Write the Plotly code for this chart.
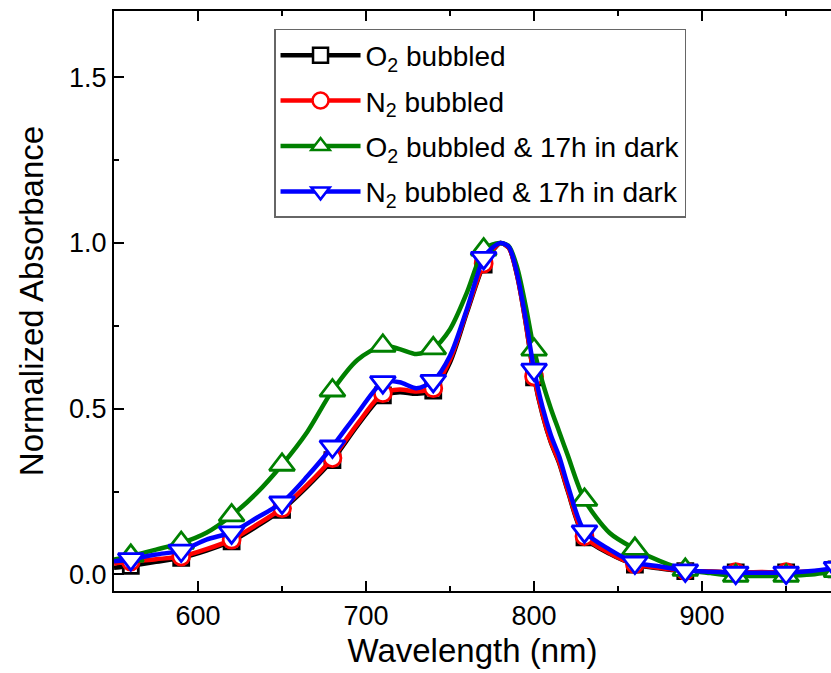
import plotly.graph_objects as go

# Wavelength grid (nm) for the smooth curves
wl = [550, 560, 575, 590, 605, 620, 635, 650, 665, 680, 695, 710, 720, 730, 740,
      750, 760, 770, 775, 780, 785, 790, 795, 800, 805, 810, 815, 820, 830, 845, 860,
      875, 890, 905, 920, 935, 950, 965, 980]

o2_bubbled = [0.020, 0.026, 0.038, 0.050, 0.072, 0.100, 0.145, 0.195, 0.265, 0.345, 0.450, 0.540,
              0.550, 0.545, 0.555, 0.640, 0.790, 0.935, 0.975, 1.000, 0.985, 0.900, 0.760, 0.595,
              0.482, 0.398, 0.335, 0.252, 0.112, 0.062, 0.030, 0.018, 0.010, 0.008, 0.006, 0.006,
              0.006, 0.008, 0.015]
n2_bubbled = [0.033, 0.039, 0.046, 0.054, 0.076, 0.105, 0.150, 0.200, 0.270, 0.351, 0.455, 0.547,
              0.558, 0.552, 0.562, 0.648, 0.795, 0.938, 0.977, 1.000, 0.985, 0.900, 0.760, 0.597,
              0.485, 0.400, 0.338, 0.255, 0.115, 0.064, 0.031, 0.019, 0.011, 0.009, 0.007, 0.007,
              0.007, 0.009, 0.016]
o2_dark = [0.045, 0.056, 0.075, 0.095, 0.126, 0.178, 0.246, 0.331, 0.430, 0.555, 0.648, 0.690,
           0.680, 0.665, 0.682, 0.740, 0.850, 0.980, 0.995, 1.000, 0.990, 0.925, 0.810, 0.678,
           0.580, 0.500, 0.430, 0.360, 0.225, 0.125, 0.077, 0.040, 0.014, 0.004, -0.004, -0.005,
           -0.004, 0.000, 0.010]
n2_dark = [0.040, 0.046, 0.060, 0.072, 0.105, 0.127, 0.171, 0.217, 0.296, 0.386, 0.487, 0.580,
           0.580, 0.562, 0.584, 0.660, 0.800, 0.955, 0.985, 1.000, 0.988, 0.905, 0.770, 0.618,
           0.505, 0.420, 0.355, 0.270, 0.130, 0.075, 0.036, 0.024, 0.012, 0.008, 0.005, 0.005,
           0.005, 0.010, 0.020]

# Marker wavelengths (every 30 nm)
marker_wl = [560, 590, 620, 650, 680, 710, 740, 770, 800, 830, 860, 890, 920, 950, 980]

names = ["O<sub>2</sub> bubbled", "N<sub>2</sub> bubbled",
         "O<sub>2</sub> bubbled &amp; 17h in dark", "N<sub>2</sub> bubbled &amp; 17h in dark"]
series = [o2_bubbled, n2_bubbled, o2_dark, n2_dark]
colors = ["#000000", "#ff0000", "#008000", "#0000ff"]
symbols = ["square", "circle", "triangle-up", "triangle-down"]
msizes = [15, 17, 22, 22]

fig = go.Figure()
for i, (name, ys, col, sym, ms) in enumerate(zip(names, series, colors, symbols, msizes)):
    fig.add_trace(go.Scatter(x=wl, y=ys, mode="lines",
                             line=dict(color=col, width=4.5, shape="spline", smoothing=0.8),
                             showlegend=False, hoverinfo="skip"))
    my = [ys[wl.index(w)] for w in marker_wl]
    fig.add_trace(go.Scatter(x=marker_wl, y=my, mode="markers",
                             marker=dict(symbol=sym, size=ms, color="white", line=dict(color=col, width=2.8)),
                             showlegend=False))
    fig.add_trace(go.Scatter(x=[None], y=[None], mode="lines+markers", name=name,
                             legendgroup=f"g{i}",
                             line=dict(color=col, width=4.5),
                             marker=dict(symbol=sym, size=ms, color="white", line=dict(color=col, width=2.5))))

font_family = "Liberation Sans, Arial, sans-serif"
fig.update_layout(
    width=831, height=673,
    margin=dict(l=114, r=0, t=11, b=82),
    paper_bgcolor="white", plot_bgcolor="white",
    font=dict(family=font_family, color="black"),
    showlegend=True,
    legend=dict(x=0.2232, y=0.969, xanchor="left", yanchor="top",
                bgcolor="white", bordercolor="#666666", borderwidth=1.5,
                font=dict(size=28, family=font_family), itemwidth=80,
                tracegroupgap=6),
    xaxis=dict(range=[550, 976.7], tickvals=[600, 700, 800, 900], ticks="inside", ticklen=10, tickwidth=2,
               tickcolor="black", showline=True, linecolor="black", linewidth=2, mirror="allticks",
               showgrid=False, zeroline=False, tickfont=dict(size=27),
               minor=dict(tickvals=[650, 750, 850, 950], ticks="inside", ticklen=5, tickwidth=2, tickcolor="black"),
               title=dict(text="Wavelength (nm)", font=dict(size=33), standoff=8)),
    yaxis=dict(range=[-0.05, 1.7], tickvals=[0.0, 0.5, 1.0, 1.5], tickformat=".1f", ticks="inside", ticklen=10,
               tickwidth=2, tickcolor="black", showline=True, linecolor="black", linewidth=2, mirror=False,
               showgrid=False, zeroline=False, tickfont=dict(size=27),
               minor=dict(tickvals=[0.25, 0.75, 1.25], ticks="inside", ticklen=5, tickwidth=2, tickcolor="black"),
               title=dict(text="Normalized Absorbance", font=dict(size=33), standoff=16)),
)

fig.write_html("out.html")
